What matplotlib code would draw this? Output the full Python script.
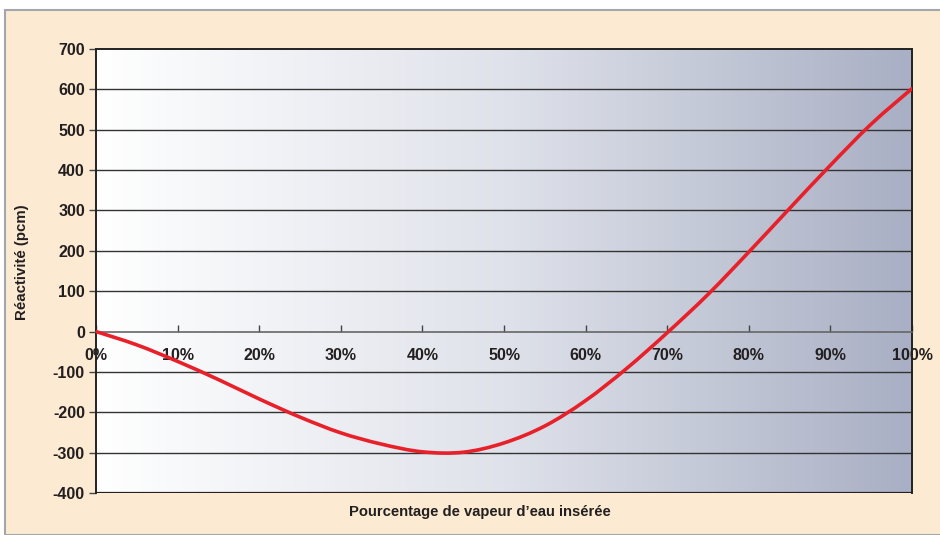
import matplotlib

matplotlib.use("Agg")

import matplotlib.pyplot as plt
import numpy as np
from matplotlib.patches import PathPatch, Rectangle
from matplotlib.path import Path

plt.rcParams["font.family"] = ["Liberation Sans", "DejaVu Sans"]
plt.rcParams["font.weight"] = "bold"

# values
vapeur_pct = [0, 5, 10, 15, 20, 25, 30, 35, 40, 45, 50, 55, 60, 65, 70, 75, 80, 85, 90, 95, 100]
reactivite = [0, -33, -74, -119, -167, -212, -251, -279, -298, -299, -276, -234, -171, -92, -3, 92, 197, 305, 412, 514, 602]
x_ticks = [0, 10, 20, 30, 40, 50, 60, 70, 80, 90, 100]
y_ticks = [-400, -300, -200, -100, 0, 100, 200, 300, 400, 500, 600, 700]


def smooth_path(xs, ys):
    # Excel-style smoothed line: cubic Bezier segments through each point
    pts = np.column_stack([xs, ys]).astype(float)
    verts = [pts[0]]
    codes = [Path.MOVETO]
    n = len(pts)
    for i in range(n - 1):
        p0 = pts[max(i - 1, 0)]
        p1 = pts[i]
        p2 = pts[i + 1]
        p3 = pts[min(i + 2, n - 1)]
        verts += [p1 + (p2 - p0) / 6, p2 - (p3 - p1) / 6, p2]
        codes += [Path.CURVE4] * 3
    return Path(verts, codes)


fig = plt.figure(figsize=(9.4, 5.35), dpi=100)
fig.patch.set_facecolor("white")
fig.patches.append(Rectangle((5 / 940, 0), 1.0, 1 - 10 / 535, transform=fig.transFigure,
                             facecolor="#fcebd2", edgecolor="#a3a7ab", linewidth=1.5, zorder=-10))

ax = fig.add_axes([96 / 940, 1 - 493 / 535, 816 / 940, 444 / 535])
ax.set_zorder(1)
ax.set_facecolor("none")

# horizontal gradient background
grad = np.linspace(0, 1, 256).reshape(1, -1)
cmap = matplotlib.colors.LinearSegmentedColormap.from_list("bg", ["#ffffff", "#dfe2ea", "#a9afc4"])
ax.imshow(grad, cmap=cmap, aspect="auto", extent=(0, 100, -400, 700), zorder=0)

ax.set_xlim(0, 100)
ax.set_ylim(-400, 700)

for y in y_ticks[1:-1]:
    if y != 0:
        ax.axhline(y, color="#333333", linewidth=1.0, zorder=1)
ax.axhline(-400, color="#222222", linewidth=1.6, zorder=3)

ax.add_patch(PathPatch(smooth_path(vapeur_pct, reactivite), facecolor="none",
                       edgecolor="#e8202a", linewidth=2.6, zorder=4, capstyle="round"))

ax.spines["bottom"].set_position(("data", 0))
ax.spines["bottom"].set_color("#666666")
ax.spines["bottom"].set_linewidth(1.2)
for side in ["left", "top", "right"]:
    ax.spines[side].set_color("#222222")
    ax.spines[side].set_linewidth(1.4)

ax.set_xticks(x_ticks, labels=[f"{v}%" for v in x_ticks])
ax.set_yticks(y_ticks, labels=[str(v) for v in y_ticks])
ax.tick_params(axis="x", direction="in", length=5, width=1, color="#444444", pad=12,
               labelsize=11.5, labelcolor="#231f20")
ax.tick_params(axis="y", direction="out", length=5, width=1, color="#444444", pad=3,
               labelsize=11.5, labelcolor="#231f20")
for lab in ax.get_xticklabels() + ax.get_yticklabels():
    lab.set_fontweight("bold")

fig.text(22 / 940, 1 - 262 / 535, "Réactivité (pcm)", rotation=90, ha="center", va="center",
         fontsize=10.8, fontweight="bold", color="#231f20")
fig.text(480 / 940, 1 - 512 / 535, "Pourcentage de vapeur d\u2019eau insérée", ha="center", va="center",
         fontsize=10.6, fontweight="bold", color="#231f20")

fig.savefig("out.png", dpi=100)
